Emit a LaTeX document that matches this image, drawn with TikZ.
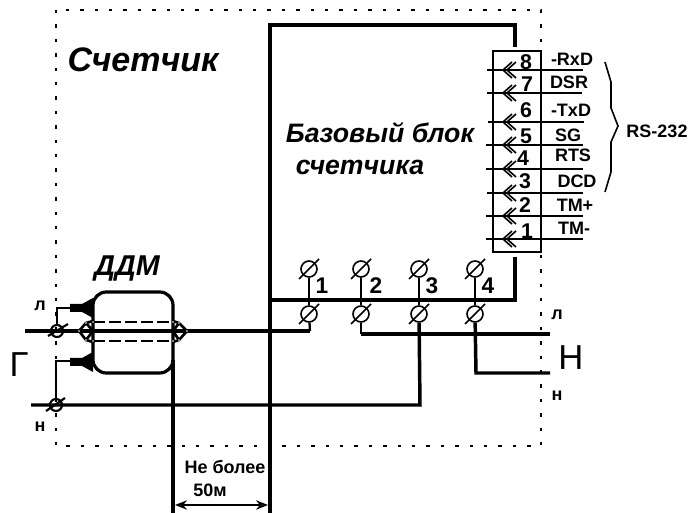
\documentclass[tikz,border=0pt]{standalone}
\usepackage{fontspec}
\setmainfont{Liberation Sans}
\usetikzlibrary{arrows.meta}
\tikzset{
  wire/.style={black,line width=2.6pt},
  thinwire/.style={black,line width=1.7pt},
  frame/.style={black,line width=1.5pt,dash pattern=on 2.6pt off 8.2pt},
  term/.style={draw,circle,inner sep=0pt,minimum size=12pt,line width=1.2pt,fill=white},
  lbl/.style={inner sep=0pt,font=\bfseries\fontsize{13.5}{14}\selectfont},
  pinno/.style={inner sep=0pt,font=\bfseries\fontsize{16}{16}\selectfont},
  title/.style={inner sep=0pt,font=\bfseries\itshape\fontsize{20}{20}\selectfont},
  chev/.style={black,line width=1.2pt},
}
\begin{document}
\begin{tikzpicture}[x=0.75pt,y=-0.75pt]
    \useasboundingbox (0,0) rectangle (693,513);
    % frame of the meter
    \draw[frame] (56,10) rectangle (541,446);
    % base block outline
    \coordinate (bl) at (270,300);
    \coordinate (tl) at (270,25);
    \coordinate (tr) at (515,25);
    \coordinate (trd) at (515,47);
    \coordinate (br) at (515,300);
    \coordinate (bru) at (515,257);
    \draw[wire] (trd) -- (tr) -- (tl) -- (bl) -- (br) -- (bru);
    % connector strip
    \draw[black,line width=1.1pt] (493,51) rectangle (541,252);
    \foreach \y/\xa/\xb/\n/\ny/\nx/\txt/\tx/\ty in {
      70/487/583/8/62/526/-RxD/572/59,
      93/487/582/7/84/527/DSR/569/82,
      122/488/584/6/110/526/-TxD/571/110,
      145/486/583/5/136/526/SG/568/135,
      169/486/583/4/158/523/RTS/573/155,
      193/487/583/3/181/525/DCD/577/181,
      216/486/583/2/205/525/TM+/575/205,
      239/486/583/1/231/527/TM-/574/228}{
      \coordinate (pl\n) at (\xa,\y);
      \coordinate (pr\n) at (\xb,\y);
      \draw[thinwire] (pl\n) -- (pr\n);
      \draw[chev] (512,\y-8) -- (503,\y) -- (512,\y+8);
      \draw[chev] (516,\y-8) -- (507,\y) -- (516,\y+8);
      \node[pinno] (pin\n) at (\nx,\ny) {\n};
      \node[lbl] (sig\n) at (\tx,\ty) {\txt};
    }
    % brace
    \draw[black,line width=1.2pt] (605,62) -- (611,82) -- (611,108) -- (618,126) -- (611,142) -- (611,172) -- (605,192);
    \node[lbl] (rs) at (657,131) {RS-232};
    % terminals
    \foreach \i/\x/\nx in {1/309/322,2/361/376,3/419/432,4/475/488}{
      \node[term] (up\i) at (\x,269) {};
      \node[term] (dn\i) at (\x,314) {};
      \draw[thinwire] (up\i) -- (dn\i);
      \draw[black,line width=1.2pt] (\x-10,279) -- (\x+10,259);
      \draw[black,line width=1.2pt] (\x-10,324) -- (\x+10,304);
      \node[inner sep=0pt,font=\bfseries\fontsize{17}{17}\selectfont] (no\i) at (\nx,286) {\i};
    }
    % outgoing wires
    \coordinate (w1) at (310,331);
    \coordinate (w1l) at (25,331);
    \coordinate (w2) at (361,334);
    \coordinate (w2r) at (550,334);
    \coordinate (w3) at (420,405);
    \coordinate (w3l) at (31,405);
    \coordinate (w4) at (476,373);
    \coordinate (w4r) at (550,373);
    \draw[thinwire] (dn1) -- (w1);
    \draw[wire] (w1) -- (w1l);
    \draw[thinwire] (dn2) -- (w2);
    \draw[wire] (w2) -- (w2r);
    \draw[wire] (dn3) -- (w3) -- (w3l);
    \draw[wire] (dn4) -- (w4) -- (w4r);
    % current sensor
    \draw[black,line width=2.4pt,rounded corners=10pt] (93,292) rectangle (173,373);
    \draw[thinwire,dash pattern=on 9pt off 3pt] (93,322) -- (173,322);
    \draw[thinwire,dash pattern=on 9pt off 3pt] (93,341) -- (173,341);
    \draw[wire,line width=2pt] (93,321) -- (86,323) -- (79,331) -- (86,340) -- (93,342);
    \draw[wire,line width=2pt] (86,323) -- (93,331) -- (86,340);
    \draw[wire,line width=2pt] (173,321) -- (179,323) -- (187,331) -- (179,340) -- (173,342);
    \draw[wire,line width=2pt] (179,323) -- (173,331) -- (179,340);
    \foreach \x/\y in {86/323,79/331,86/340,93/322,93/341,179/323,187/331,179/340,173/322,173/341}
      \fill[white] (\x,\y) circle (0.6pt);
    \fill[black] (70,304) -- (82,304) -- (93,298) -- (93,318) -- (82,312) -- (70,312) -- cycle;
    \fill[black] (70,358) -- (82,358) -- (93,352) -- (93,372) -- (82,366) -- (70,366) -- cycle;
    % sensor leads
    \node[term,minimum size=9pt,line width=1.6pt,fill=none] (gl) at (57,331) {};
    \node[term,minimum size=9pt,line width=1.6pt,fill=none] (gn) at (56,405) {};
    \draw[black,line width=1.6pt] (48,336) -- (68,324);
    \draw[black,line width=1.6pt] (46,411) -- (65,398);
    \coordinate (la) at (70,308);
    \coordinate (lb) at (57,308);
    \coordinate (na) at (70,361);
    \coordinate (nb) at (56,361);
    \draw[thinwire,line width=1.2pt] (la) -- (lb) -- (gl);
    \draw[thinwire,line width=1.2pt] (na) -- (nb) -- (gn);
    % distance
    \coordinate (da) at (173,360);
    \coordinate (db) at (173,513);
    \coordinate (dc) at (270,300);
    \coordinate (dd) at (270,513);
    \draw[wire] (da) -- (db);
    \draw[wire] (dc) -- (dd);
    \coordinate (ea) at (175,505);
    \coordinate (eb) at (268,505);
    \draw[black,line width=1.3pt,{Stealth[open,length=9pt,width=7pt]}-{Stealth[open,length=9pt,width=7pt]}] (ea) -- (eb);
    % labels
    \node[title,font=\bfseries\itshape\fontsize{25.5}{26}\selectfont] (meter) at (143,60) {Счетчик};
    \node[title] (base) at (380,133) {Базовый блок};
    \node[title] (basetwo) at (360,167) {счетчика};
    \node[title,font=\bfseries\itshape\fontsize{21.5}{22}\selectfont] (ddm) at (127,268) {ДДМ};
    \node[lbl] (dist) at (225,467) {Не более};
    \node[lbl] (distb) at (210,490) {50м};
    \node[lbl] (ll) at (40,306) {л};
    \node[lbl] (ln) at (40,427) {н};
    \node[lbl] (rl) at (557,315) {л};
    \node[lbl] (rn) at (557,396) {н};
    \node[inner sep=0pt,font=\fontsize{26}{26}\selectfont] (gen) at (19,365) {Г};
    \node[inner sep=0pt,font=\fontsize{26}{26}\selectfont] (load) at (571,358) {Н};
  \end{tikzpicture}
\end{document}
